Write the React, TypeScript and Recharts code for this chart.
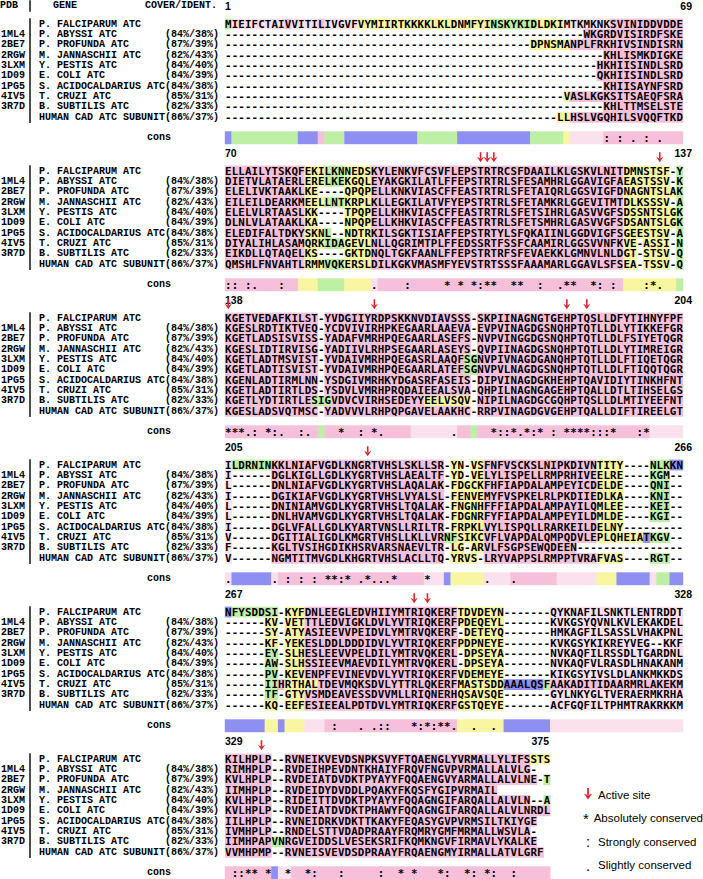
import React from 'react';
import { ScatterChart, Scatter, XAxis, YAxis, ReferenceLine, Legend } from 'recharts';

// ---------------- data ----------------
const pdbIds = ["", "1ML4", "2BE7", "2RGW", "3LXM", "1D09", "1PG5", "4IV5", "3R7D", ""];
const geneNames = [
  "P. FALCIPARUM ATC", "P. ABYSSI ATC", "P. PROFUNDA ATC", "M. JANNASCHII ATC", "Y. PESTIS ATC",
  "E. COLI ATC", "S. ACIDOCALDARIUS ATC", "T. CRUZI ATC", "B. SUBTILIS ATC", "HUMAN CAD ATC SUBUNIT",
];
const coverIdent = ["", "(84%/38%)", "(87%/39%)", "(82%/43%)", "(84%/40%)", "(84%/39%)", "(84%/38%)", "(85%/31%)", "(82%/33%)", "(86%/37%)"];
const blockStart = [1, 70, 138, 205, 267, 329];
const blockEnd = [69, 137, 204, 266, 328, 375];

const gap = (n: number) => "-".repeat(n);

const block1 = [
  "MIEIFCTAIVVITILIVGVFVYMIIRTKKKKLKLDNMFYINSKYKIDLDKIMTKMKNKSVINIDDVDDE",
  gap(54) + "WKGRDVISIRDFSKE",
  gap(46) + "DPNSMANPLFRKHIVSINDISRN",
  gap(57) + "KHLISMKDIGKE",
  gap(56) + "HKHIISINDLSRD",
  gap(56) + "QKHIISINDLSRD",
  gap(57) + "KHIISAYNFSRD",
  gap(51) + "VASLKGKSITSAEQFSRA",
  gap(57) + "KHLTTMSELSTE",
  gap(50) + "LLHSLVGQHILSVQQFTKD",
];
const block2 = [
  "ELLAILYTSKQFEKILKNNEDSKYLENKVFCSVFLEPSTRTRCSFDAAILKLGSKVLNITDMNSTSF-Y",
  "DIETVLATAERLERELKEKGQLEYAKGKILATLFFEPSTRTRLSFESAMHRLGGAVIGFAEASTSSV-K",
  "ELELIVKTAAKLKE----QPQPELLKNKVIASCFFEASTRTRLSFETAIQRLGGSVIGFDNAGNTSLAK",
  "EILEILDEARKMEELLNTKRPLKLLEGKILATVFYEPSTRTRLSFETAMKRLGGEVITMTDLKSSSV-A",
  "ELELVLRTAASLKK----TPQPELLKHKVIASCFFEASTRTRLSFETSIHRLGASVVGFSDSSNTSLGK",
  "DLNLVLATAAKLKA----NPQPELLKHKVIASCFFEASTRTRLSFETSMHRLGASVVGFSDSANTSLGK",
  "ELEDIFALTDKYSKNL--NDTRKILSGKTISIAFFEPSTRTYLSFQKAIINLGGDVIGFSGEESTSV-A",
  "DIYALIHLASAMQRKIDAGEVLNLLQGRIMTPLFFEDSSRTFSSFCAAMIRLGGSVVNFKVE-ASSI-N",
  "EIKDLLQTAQELKS----GKTDNQLTGKFAANLFFEPSTRTRFSFEVAEKKLGMNVLNLDGT-STSV-Q",
  "QMSHLFNVAHTLRMMVQKERSLDILKGKVMASMFYEVSTRTSSSFAAAMARLGGAVLSFSEA-TSSV-Q",
];
const block3 = [
  "KGETVEDAFKILST-YVDGIIYRDPSKKNVDIAVSSS-SKPIINAGNGTGEHPTQSLLDFYTIHNYFPF",
  "KGESLRDTIKTVEQ-YCDVIVIRHPKEGAARLAAEVA-EVPVINAGDGSNQHPTQTLLDLYTIKKEFGR",
  "KGETLADSISVISS-YADAFVMRHPQEGAARLASEFS-NVPVINGGDGSNQHPTQTLLDLFSIYETQGR",
  "KGESLIDTIRVISG-YADIIVLRHPSEGAARLASEYS-QVPIINAGDGSNQHPTQTLLDLYTIMREIGR",
  "KGETLADTMSVIST-YVDAIVMRHPQEGASRLAAQFSGNVPIVNAGDGANQHPTQTLLDLFTIQETQGR",
  "KGETLADTISVIST-YVDAIVMRHPQEGAARLATEFSGNVPVLNAGDGSNQHPTQTLLDLFTIQQTQGR",
  "KGENLADTIRMLNN-YSDGIVMRHKYDGASRFASEIS-DIPVINAGDGKHEHPTQAVIDIYTINKHFNT",
  "KGETLADTIRTLDS-YSDVLVMRHPRQDAIEEALSVA-QHPILNAGNGAGEHPTQALLDTLTIHSELGS",
  "KGETLYDTIRTLESIGVDVCVIRHSEDEYYEELVSQV-NIPILNAGDGCGQHPTQSLLDLMTIYEEFNT",
  "KGESLADSVQTMSC-YADVVVLRHPQPGAVELAAKHC-RRPVINAGDGVGEHPTQALLDIFTIREELGT",
];
const block4 = [
  "ILDRNINKKLNIAFVGDLKNGRTVHSLSKLLSR-YN-VSFNFVSCKSLNIPKDIVNTITY----NLKKN",
  "I------DGLKIGLLGDLKYGRTVHSLAEALTF-YD-VELYLISPELLRMPRHIVEELRE----KGM--",
  "L------DNLNIAFVGDLKYGRTVHSLAQALAK-FDGCKFHFIAPDALAMPEYICDELDE----QNI--",
  "I------DGIKIAFVGDLKYGRTVHSLVYALSL-FENVEMYFVSPKELRLPKDIIEDLKA----KNI--",
  "L------DNINIAMVGDLKYGRTVHSLTQALAK-FNGNHFFFIAPDALAMPAYILQMLEE----KEI--",
  "L------DNLHVAMVGDLKYGRTVHSLTQALAK-FDGNRFYFIAPDALAMPEYILDMLDE----KGI--",
  "I------DGLVFALLGDLKYARTVNSLLRILTR-FRPKLVYLISPQLLRARKEILDELNY---------",
  "V------DGITIALIGDLKMGRTVHSLLKLLVRNFSIKCVFLVAPDALQMPQDVLEPLQHEIATKGV--",
  "F------KGLTVSIHGDIKHSRVARSNAEVLTR-LG-ARVLFSGPSEWQDEEN" + gap(16),
  "V------NGMTITMVGDLKHGRTVHSLACLLTQ-YRVS-LRYVAPPSLRMPPTVRAFVAS----RGT--",
];
const block5 = [
  "NFYSDDSI-KYFDNLEEGLEDVHIIYMTRIQKERFTDVDEYN-------QYKNAFILSNKTLENTRDDT",
  "------KV-VETTTLEDVIGKLDVLYVTRIQKERFPDEQEYL-------KVKGSYQVNLKVLEKAKDEL",
  "------SY-ATYASIEEVVPEIDVLYMTRVQKERF-DETEYQ-------HMKAGFILSASSLVHAKPNL",
  "------KF-YEKESLDDLDDDIDVLYVTRIQKERFPDPNEYE-------KVKGSYKIKREYVEG--KKF",
  "------EY-SLHESLEEVVPELDILYMTRVQKERL-DPSEYA-------NVKAQFILRSSDLTGARDNL",
  "------AW-SLHSSIEEVMAEVDILYMTRVQKERL-DPSEYA-------NVKAQFVLRASDLHNAKANM",
  "------PV-KEVENPFEVINEVDVLYVTRIQKERFVDEMEYE-------KIKGSYIVSLDLANKMKKDS",
  "------IIHRTHALTDEVMQKSDVLYTTRLQKERFMASTSDDAAALQSFAAKADITIDAARMRLAKEKM",
  "------TF-GTYVSMDEAVESSDVVMLLRIQNERHQSAVSQE-------GYLNKYGLTVERAERMKRHA",
  "------KQ-EEFESIEEALPDTDVLYMTRIQKERFGSTQEYE-------ACFGQFILTPHMTRAKRKKM",
];
const block6 = [
  "KILHPLP--RVNEIKVEVDSNPKSVYFTQAENGLYVRMALLYLIFSSTS",
  "RIMHPLP--RVDEIHPEVDNTKHAIYFRQVFNGVPVRMALLALVLG-",
  "KVLHPLP--RVDEIATDVDKTPYAYYFQQAENGVYARMALLALVLNE-T",
  "IIMHPLP--RVDEIDYDVDDLPQAKYFKQSFYGIPVRMAIL",
  "KVLHPLP--RIDEITTDVDKTPYAYYFQQAGNGIFARQALLALVLN--A",
  "KVLHPLP--RVDEIATDVDKTPHAWYFQQAGNGIFARQALLALVLNRDL",
  "IILHPLP--RVNEIDRKVDKTTKAKYFEQASYGVPVRMSILTKIYGE",
  "IVMHPLP--RNDELSTTVDADPRAAYFRQMRYGMFMRMALLWSVLA-",
  "IIMHPAPVNRGVEIDDSLVESEKSRIFKQMKNGVFIRMAVLYKALKE",
  "VVMHPMP--RVNEISVEVDSDPRAAYFRQAENGMYIRMALLATVLGRF",
];

// consensus symbols: "column+symbol"
const cons1 = "58: 60: 62. 64: 66.";
const cons2 = "1: 2: 4: 5. 9: 23. 28: 34* 36* 38* 39: 40* 41* 44* 45* 48: 51. 52* 53* 56* 57: 59: 64: 65* 66.";
const cons3 = "1* 2* 3* 4. 5: 7* 8: 9. 12: 13. 18* 21: 23* 24. 35. 41* 42: 43: 44* 45. 46* 47: 48* 50: 52* 53* 54* 55* 56: 57: 58: 59* 63: 64*";
const cons4 = "1. 8. 10: 12: 14: 16* 17* 18: 19* 21. 22* 23. 24. 25. 26* 31* 40. 44.";
const cons5 = "17: 21. 23. 24: 25: 29* 30: 31* 32: 33* 34* 35. 38. 41.";
const cons6 = "2: 3: 4* 5* 7* 10* 13* 14: 18: 24: 27* 29* 33* 34: 37* 38: 40* 41: 44:";

// consensus score classes (run lengths)
const consClass1: [string, number][] = [["b",1],["g",10],["b",3],["p",1],["g",3],["b",11],["g",6],["b",11],["g",5],["y",1],["l",5],["p",12]];
const consClass2: [string, number][] = [["p",11],["y",3],["g",4],["y",4],["l",1],["p",37],["y",8],["g",1]];
const consClass3: [string, number][] = [["p",14],["g",1],["p",13],["l",7],["p",2],["g",1],["p",26],["l",5]];
const consClass4: [string, number][] = [["l",1],["b",6],["l",1],["p",22],["l",3],["b",1],["y",5],["l",4],["p",7],["l",6],["y",3],["b",5],["l",1],["g",2],["b",2]];
const consClass5: [string, number][] = [["b",6],["y",2],["b",1],["y",3],["l",3],["p",20],["y",7],["b",7],["l",20]];
const consClass6: [string, number][] = [["p",7],["b",1],["l",2],["p",39]];

// residue score classes that differ from the default (strong) class: [rows, fromCol, toCol, class]
const ALL = [0, 1, 2, 3, 4, 5, 6, 7, 8, 9];
const marks1: [number[], number, number, string][] = [
  [[0],1,1,"g"],[[0],2,20,"l"],[[0],10,10,"p"],[[0],15,15,"p"],[[0],21,40,"y"],[[0],41,47,"g"],[[0],48,51,"y"],[[0],52,58,"l"],
  [[2],47,52,"y"],[[7],52,52,"y"],[[9],51,52,"y"],
];
const marks2: [number[], number, number, string][] = [[ALL,13,15,"y"],[ALL,16,18,"g"],[ALL,19,22,"y"],[ALL,61,68,"y"],[ALL,69,69,"g"]];
const marks3: [number[], number, number, string][] = [[[8],14,16,"g"],[[8],31,37,"y"],[[4,5],37,38,"g"]];
const marks4: [number[], number, number, string][] = [
  [ALL,1,1,"l"],[[0],2,7,"g"],[ALL,35,39,"y"],[[7],34,35,"g"],[ALL,57,63,"y"],[ALL,64,64,"b"],[ALL,65,67,"g"],[ALL,68,69,"b"],
];
const marks5: [number[], number, number, string][] = [
  [ALL,7,8,"y"],[[4,5,6,7,8],7,8,"g"],[ALL,10,12,"y"],[[7],10,14,"y"],[[0],1,1,"b"],[[0],2,8,"g"],
  [ALL,36,42,"y"],[ALL,50,69,"l"],[[7],43,48,"b"],[[7],49,49,"g"],[[7],50,69,"p"],
];
const marks6: [number[], number, number, string][] = [[[8],8,9,"g"],[[0],47,49,"y"],[[2],49,49,"g"],[[4],49,49,"g"]];

const activeSites = [[], [39, 40, 41, 66], [1, 23, 52, 55], [22], [29, 31], [6]];

// ---------------- layout / style ----------------
const W = 703, H = 879;
const SEQ_LEFT = 225;
const CW = 6.638;
const ROW0 = 24;
const RH = 10.37;
const BLOCK_ROWS = 147 / RH;
const HEADER_R = -1.74;
const ARROW_R = -1.33;
const CONS_R = 10.97;
const XMIN = -SEQ_LEFT / CW, XMAX = (W - SEQ_LEFT) / CW;
const YMIN = -ROW0 / RH, YMAX = (H - ROW0) / RH;
const pxCol = (px: number) => (px - SEQ_LEFT) / CW;

const PALETTE: Record<string, string> = { p: "#F7C0DA", l: "#FBE1ED", y: "#F8F6A0", g: "#BDEFA5", b: "#8F8FF2" };
const RED = "#E5212B";
const MONO = "'DejaVu Sans Mono', monospace";
const LABEL = "'Liberation Mono', monospace";

const BLOCKS = [block1, block2, block3, block4, block5, block6];
const MARKS = [marks1, marks2, marks3, marks4, marks5, marks6];
const CONS_SYM = [cons1, cons2, cons3, cons4, cons5, cons6];
const CONS_CLASS = [consClass1, consClass2, consClass3, consClass4, consClass5, consClass6];

const rowY = (b: number, k: number) => b * BLOCK_ROWS + k;

// ---------------- build tables ----------------
const bgData: any[] = [];
const consBg: any[] = [];
const seqText: any[] = [];
const consText: any[] = [];
const numText: any[] = [];
const labelText: any[] = [];
const arrows: any[] = [];

BLOCKS.forEach((rows, b) => {
  rows.forEach((seq, k) => {
    const codes = seq.split("").map((ch) => (ch === "-" ? "" : "p"));
    MARKS[b].forEach(([rs, from, to, c]) => {
      if (!rs.includes(k)) return;
      for (let i = from; i <= to; i++) if (codes[i - 1]) codes[i - 1] = c;
    });
    let i = 0;
    while (i < codes.length) {
      const c = codes[i];
      let j = i;
      while (j < codes.length && codes[j] === c) j++;
      if (c) bgData.push({ x: i + (j - i) / 2, y: rowY(b, k), n: j - i, h: RH, c });
      i = j;
    }
    seqText.push({ x: 0, y: rowY(b, k), t: seq });
    if (pdbIds[k]) labelText.push({ x: pxCol(1), y: rowY(b, k), t: pdbIds[k], a: "start" });
    labelText.push({ x: pxCol(39), y: rowY(b, k), t: geneNames[k], a: "start" });
    if (coverIdent[k]) labelText.push({ x: pxCol(165), y: rowY(b, k), t: coverIdent[k], a: "start" });
  });
  let s = 0;
  CONS_CLASS[b].forEach(([c, n]) => {
    consBg.push({ x: s + n / 2, y: rowY(b, CONS_R), n, h: 12.5, c });
    s += n;
  });
  CONS_SYM[b].split(" ").forEach((tok) => {
    const col = parseInt(tok, 10);
    const sym = tok.slice(String(col).length);
    consText.push({ x: col - 0.5, y: rowY(b, CONS_R) + 0.05, t: sym });
  });
  labelText.push({ x: pxCol(147), y: rowY(b, CONS_R), t: "cons", a: "start" });
  numText.push({ x: 0, y: rowY(b, HEADER_R), t: String(blockStart[b]), a: "start" });
  numText.push({ x: b === 5 ? pxCol(549) : pxCol(692), y: rowY(b, HEADER_R), t: String(blockEnd[b]), a: "end" });
  activeSites[b].forEach((col) => arrows.push({ x: col - 0.5, y: rowY(b, ARROW_R) }));
});
labelText.push({ x: pxCol(0), y: HEADER_R, t: "PDB", a: "start" });
labelText.push({ x: pxCol(53), y: HEADER_R, t: "GENE", a: "start" });
labelText.push({ x: pxCol(145), y: HEADER_R, t: "COVER/IDENT.", a: "start" });

const LINE_X = pxCol(30);

// ---------------- shapes ----------------
const BgShape = (p: any) => {
  const { cx, cy, payload } = p;
  const w = payload.n * CW + 0.4;
  const h = payload.h + 0.4;
  return <rect x={cx - w / 2} y={cy - h / 2} width={w} height={h} fill={PALETTE[payload.c]} />;
};
const SeqShape = (p: any) => (
  <text x={p.cx} y={p.cy} dominantBaseline="central" textLength={p.payload.t.length * CW} lengthAdjust="spacing"
    style={{ fontFamily: MONO, fontWeight: 700, fontSize: 10.8 }} fill="#000">{p.payload.t}</text>
);
const ConsShape = (p: any) => (
  <text x={p.cx} y={p.cy} dominantBaseline="central" textAnchor="middle"
    style={{ fontFamily: MONO, fontWeight: 700, fontSize: 10.8 }} fill="#000">{p.payload.t}</text>
);
const LabelShape = (p: any) => (
  <text x={p.cx} y={p.cy} dominantBaseline="central" textAnchor={p.payload.a}
    style={{ fontFamily: LABEL, fontWeight: 700, fontSize: 10 }} fill="#000">{p.payload.t}</text>
);
const NumShape = (p: any) => (
  <text x={p.cx} y={p.cy} dominantBaseline="central" textAnchor={p.payload.a}
    style={{ fontFamily: "'Liberation Sans', sans-serif", fontWeight: 700, fontSize: 10.5 }} fill="#000">{p.payload.t}</text>
);
const ArrowShape = (p: any) => {
  const { cx, cy } = p;
  return (
    <g>
      <line x1={cx} y1={cy - 5} x2={cx} y2={cy + 1.5} stroke={RED} strokeWidth={1.6} />
      <polygon points={`${cx - 3.6},${cy - 0.5} ${cx},${cy + 1.6} ${cx + 3.6},${cy - 0.5} ${cx},${cy + 5}`} fill={RED} />
    </g>
  );
};

const LegendBox = () => {
  const row: React.CSSProperties = { display: "flex", alignItems: "center", height: 23.5 };
  const icon: React.CSSProperties = { width: 20, textAlign: "center", fontFamily: "'Liberation Sans', sans-serif", fontSize: 15, color: "#000" };
  const txt: React.CSSProperties = { fontFamily: "'Liberation Sans', sans-serif", fontSize: 11.5, color: "#000", whiteSpace: "nowrap" };
  return (
    <div>
      <div style={row}>
        <div style={icon}>
          <svg width={10} height={12} viewBox="0 0 10 12">
            <line x1={5} y1={0} x2={5} y2={7} stroke={RED} strokeWidth={1.8} />
            <polygon points="0.8,5.5 5,7.5 9.2,5.5 5,11.5" fill={RED} />
          </svg>
        </div>
        <span style={txt}>Active site</span>
      </div>
      <div style={row}><div style={icon}>*</div><span style={txt}>Absolutely conserved</span></div>
      <div style={row}><div style={icon}>:</div><span style={txt}>Strongly conserved</span></div>
      <div style={row}><div style={icon}>.</div><span style={txt}>Slightly conserved</span></div>
    </div>
  );
};

export default function App() {
  return (
    <div style={{ position: "absolute", left: 0, top: 0, width: W, height: H, background: "#fff", overflow: "hidden" }}>
      <ScatterChart width={W} height={H} margin={{ top: 0, right: 0, bottom: 0, left: 0 }}>
        <XAxis type="number" dataKey="x" domain={[XMIN, XMAX]} allowDataOverflow hide />
        <YAxis type="number" dataKey="y" domain={[YMIN, YMAX]} allowDataOverflow reversed hide />
        <Scatter data={bgData} shape={BgShape} isAnimationActive={false} />
        <Scatter data={consBg} shape={BgShape} isAnimationActive={false} />
        <Scatter data={seqText} shape={SeqShape} isAnimationActive={false} />
        <Scatter data={consText} shape={ConsShape} isAnimationActive={false} />
        <Scatter data={labelText} shape={LabelShape} isAnimationActive={false} />
        <Scatter data={numText} shape={NumShape} isAnimationActive={false} />
        <Scatter data={arrows} shape={ArrowShape} isAnimationActive={false} />
        <ReferenceLine segment={[{ x: LINE_X, y: HEADER_R - 0.55 }, { x: LINE_X, y: HEADER_R + 0.55 }]} stroke="#000" strokeWidth={1.4} ifOverflow="visible" />
        {BLOCKS.map((_, b) => (
          <ReferenceLine key={b} segment={[{ x: LINE_X, y: rowY(b, -0.55) }, { x: LINE_X, y: rowY(b, 9.55) }]} stroke="#000" strokeWidth={1.4} ifOverflow="visible" />
        ))}
        <Legend layout="vertical" align="center" verticalAlign="middle"
          wrapperStyle={{ position: "absolute", left: 578, top: 783, width: 125, height: 96 }}
          content={() => <LegendBox />} />
      </ScatterChart>
    </div>
  );
}
